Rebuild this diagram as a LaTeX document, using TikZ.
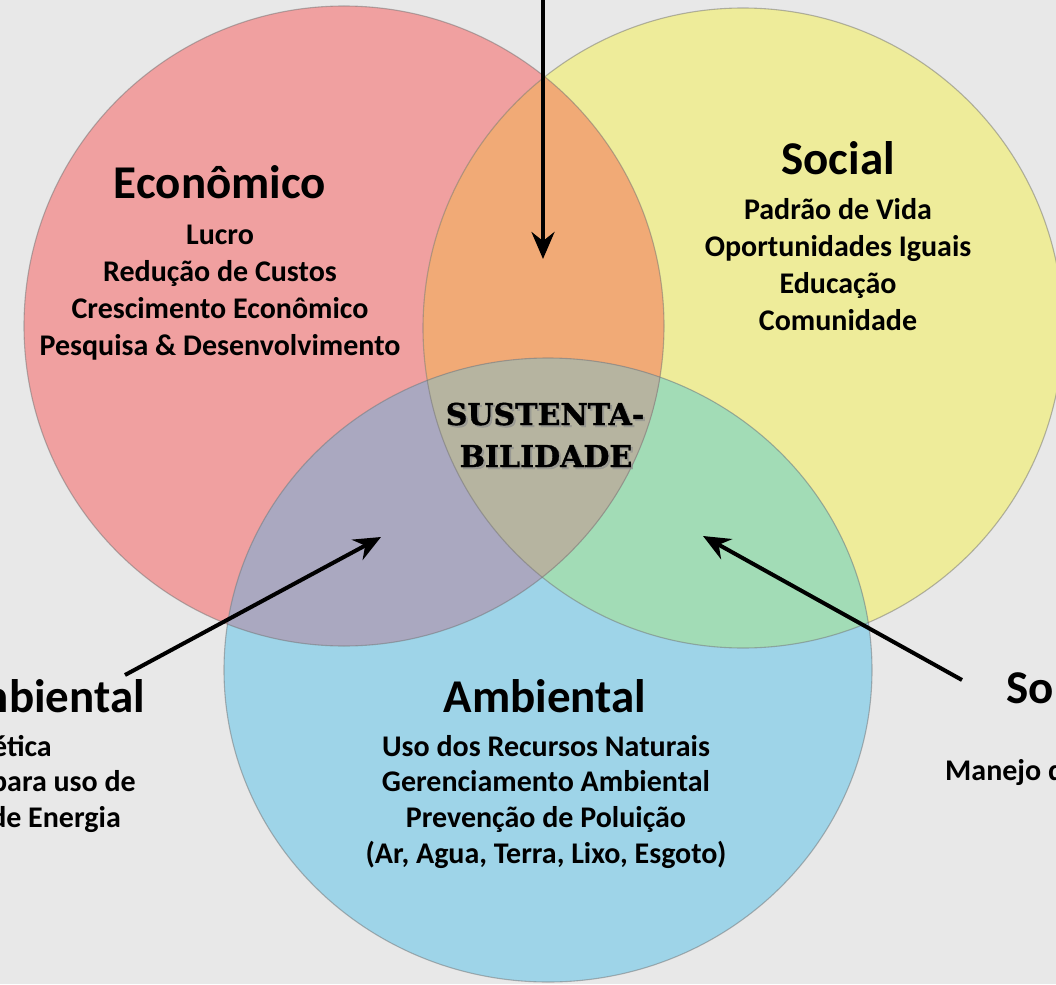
\documentclass[tikz,border=0pt]{standalone}
\usepackage{fontspec}
\setmainfont{Carlito}
\newfontfamily\sustfont[FakeBold=1.2]{DejaVu Serif}
\usetikzlibrary{arrows.meta}
\definecolor{bgc}{RGB}{232,232,232}
\definecolor{ecoc}{RGB}{240,160,160}
\definecolor{socc}{RGB}{238,236,154}
\definecolor{ambc}{RGB}{158,212,232}
\definecolor{orac}{RGB}{241,170,118}
\definecolor{purc}{RGB}{170,168,192}
\definecolor{grec}{RGB}{162,220,182}
\definecolor{olic}{RGB}{182,180,160}
\tikzset{
  outl/.style={draw=black!55, draw opacity=0.5, line width=1.1pt},
  ttl/.style={font=\fontsize{47}{52}\selectfont\bfseries, anchor=base, inner sep=0pt},
  bdy/.style={font=\fontsize{30}{37}\selectfont\bfseries, anchor=base, inner sep=0pt},
  sust/.style={font=\fontsize{30}{36}\selectfont\sustfont\bfseries, anchor=base, inner sep=0pt},
  arr/.style={line width=4pt, -{Stealth[length=27pt,width=23pt,inset=9pt]}}
}
\begin{document}
\begin{tikzpicture}[x=1pt,y=-1pt]
\useasboundingbox (0,0) rectangle (1056,984);
\clip (0,0) rectangle (1056,984);
\fill[bgc] (0,0) rectangle (1056,984);
% base fills
\fill[ecoc] (344,326) circle[radius=320];
\fill[socc] (743,328) circle[radius=320];
\fill[ambc] (548,670) ellipse[x radius=324, y radius=312];
% yellow & blue
\begin{scope}
  \clip (743,328) circle[radius=320];
  \fill[grec] (548,670) ellipse[x radius=324, y radius=312];
\end{scope}
% red & others
\begin{scope}
  \clip (344,326) circle[radius=320];
  \fill[orac] (743,328) circle[radius=320];
  \fill[purc] (548,670) ellipse[x radius=324, y radius=312];
  \clip (743,328) circle[radius=320];
  \fill[olic] (548,670) ellipse[x radius=324, y radius=312];
\end{scope}
% outlines
\draw[outl] (344,326) circle[radius=320];
\draw[outl] (743,328) circle[radius=320];
\draw[outl] (548,670) ellipse[x radius=324, y radius=312];

% Economico
\node[ttl] (ecoT) at (220,199) {Econômico};
\node[bdy] (eco1) at (220,244) {Lucro};
\node[bdy] (eco2) at (220,281) {Redução de Custos};
\node[bdy] (eco3) at (220,318) {Crescimento Econômico};
\node[bdy] (eco4) at (220,355) {Pesquisa \& Desenvolvimento};
% Social
\node[ttl] (socT) at (838,175) {Social};
\node[bdy] (soc1) at (838,219) {Padrão de Vida};
\node[bdy] (soc2) at (838,256) {Oportunidades Iguais};
\node[bdy] (soc3) at (838,293) {Educação};
\node[bdy] (soc4) at (838,330) {Comunidade};
% Ambiental
\node[ttl] (ambT) at (545,712) {Ambiental};
\node[bdy] (amb1) at (546,756) {Uso dos Recursos Naturais};
\node[bdy] (amb2) at (546,791) {Gerenciamento Ambiental};
\node[bdy] (amb3) at (546,827) {Prevenção de Poluição};
\node[bdy] (amb4) at (546,863) {(Ar, Agua, Terra, Lixo, Esgoto)};
% left partial block
\node[ttl, anchor=base east] (lT) at (145,712) {nbiental};
\node[bdy, anchor=base east] (l1) at (52,756) {gética};
\node[bdy, anchor=base east] (l2) at (136,791) {para uso de};
\node[bdy, anchor=base east] (l3) at (121,827) {de Energia};
% right partial block
\node[ttl, anchor=base west] (rT) at (1006,703) {So};
\node[bdy, anchor=base west] (r1) at (945,780) {Manejo d};
% centre
\node[sust, text=black!45, opacity=0.6] (sustS1) at (547,427) {SUSTENTA-};
\node[sust, text=black!45, opacity=0.6] (sustS2) at (548,469) {BILIDADE};
\node[sust] (sust1) at (545,425) {SUSTENTA-};
\node[sust] (sust2) at (546,467) {BILIDADE};

% arrows
\coordinate (topTail) at (543,-4);
\coordinate (topHead) at (543,259);
\coordinate (leftTail) at (125,675);
\coordinate (leftHead) at (381,537);
\coordinate (rightTail) at (962,680);
\coordinate (rightHead) at (703,536);
\draw[arr] (topTail) -- (topHead);
\draw[arr] (leftTail) -- (leftHead);
\draw[arr] (rightTail) -- (rightHead);
\end{tikzpicture}
\end{document}
